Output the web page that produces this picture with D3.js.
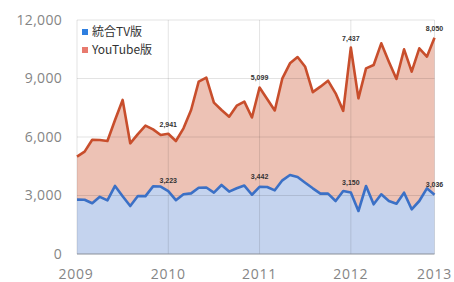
<!DOCTYPE html>
<html><head><meta charset="utf-8">
<script src="https://cdn.jsdelivr.net/npm/d3@7"></script>
<style>body{margin:0;background:#fff}svg{display:block}</style>
</head><body>
<script>
// Monthly values Jan 2009 – Dec 2012
const tvValues = [2790,2780,2600,2930,2750,3490,2960,2460,2970,2970,3470,3460,
  3223,2760,3060,3110,3400,3410,3150,3540,3200,3370,3510,3040,
  3442,3436,3265,3778,4051,3949,3658,3368,3094,3094,2718,3231,
  3150,2205,3487,2547,3060,2718,2581,3145,2291,2718,3368,3036];
const youtubeValues = [2200,2470,3260,2920,3045,3380,4940,3215,3180,3610,2920,2640,
  2941,3035,3384,4275,5438,5633,4611,3845,3843,4237,4302,3960,
  5099,4514,4095,5231,5727,6151,5942,4932,5487,5795,5521,4109,
  7437,5778,6034,7145,7743,7145,6393,7351,7059,7829,6752,8050];
const seriesNames = ["統合TV版","YouTube版"];
const xTickIndex = [0,12,24,36,47];
const xTickLabels = ["2009","2010","2011","2012","2013"];
const yTicks = [0,3000,6000,9000,12000];
const labelIndex = [12,24,36,47];

const W=454,H=282;
const svg=d3.select("body").append("svg").attr("width",W).attr("height",H);
const x=d3.scaleLinear().domain([0,47]).range([77,434.5]);
const y=d3.scaleLinear().domain([0,12000]).range([254,20]);
const data=tvValues.map((v,i)=>({i,tv:v,yt:youtubeValues[i],tot:v+youtubeValues[i]}));

// areas
svg.append("path").datum(data).attr("fill","#edc2b5")
  .attr("d",d3.area().x(d=>x(d.i)).y0(d=>y(d.tv)).y1(d=>y(d.tot)));
svg.append("path").datum(data).attr("fill","#c4d3ee")
  .attr("d",d3.area().x(d=>x(d.i)).y0(y(0)).y1(d=>y(d.tv)));

// grid
const g=svg.append("g");
g.selectAll(".h").data(yTicks.filter(t=>t>0)).join("line")
  .attr("x1",x(0)).attr("x2",x(47)).attr("y1",d=>y(d)).attr("y2",d=>y(d))
  .attr("stroke","rgba(0,0,0,0.11)").attr("stroke-width",1);
g.selectAll(".v").data(xTickIndex).join("line")
  .attr("x1",d=>x(d)).attr("x2",d=>x(d)).attr("y1",y(12000)).attr("y2",y(0))
  .attr("stroke","rgba(0,0,0,0.11)").attr("stroke-width",1);
svg.append("line").attr("x1",x(0)).attr("x2",x(47)).attr("y1",y(0)).attr("y2",y(0))
  .attr("stroke","#8a8f99").attr("stroke-width",1);

// lines
svg.append("path").datum(data).attr("fill","none").attr("stroke","#c84e2c")
  .attr("stroke-width",2.6).attr("stroke-linejoin","round")
  .attr("d",d3.line().x(d=>x(d.i)).y(d=>y(d.tot)));
svg.append("path").datum(data).attr("fill","none").attr("stroke","#3b70c6")
  .attr("stroke-width",2.6).attr("stroke-linejoin","round")
  .attr("d",d3.line().x(d=>x(d.i)).y(d=>y(d.tv)));

// axes labels
const fmt=d3.format(",");
const axisFont="'Open Sans', 'Liberation Sans', sans-serif";
svg.selectAll(".yl").data(yTicks).join("text")
  .attr("x",62).attr("y",d=>y(d)).attr("dy","0.35em").attr("text-anchor","end")
  .attr("font-family",axisFont).attr("font-size",14).attr("fill","#858585")
  .attr("letter-spacing",0.3)
  .text(d=>fmt(d));
svg.selectAll(".xl").data(xTickIndex).join("text")
  .attr("x",(d,k)=>x(d)-(k===0?1:0)).attr("y",274).attr("dy","0.35em").attr("text-anchor","middle")
  .attr("font-family",axisFont).attr("font-size",14).attr("fill","#858585")
  .attr("letter-spacing",0.8)
  .text((d,k)=>xTickLabels[k]);

// value labels
const lf="'Liberation Sans', sans-serif";
svg.selectAll(".lt").data(labelIndex).join("text")
  .attr("x",d=>x(d)).attr("y",d=>y(data[d].tot)-7).attr("text-anchor","middle")
  .attr("font-family",lf).attr("font-size",7).attr("font-weight","bold").attr("fill","#333")
  .text(d=>fmt(data[d].yt));
svg.selectAll(".lb").data(labelIndex).join("text")
  .attr("x",d=>x(d)).attr("y",d=>y(data[d].tv)-8).attr("text-anchor","middle")
  .attr("font-family",lf).attr("font-size",7).attr("font-weight","bold").attr("fill","#333")
  .text(d=>fmt(data[d].tv));

// legend
const legColors=["#2f7fe0","#e87a6e"];
const leg=svg.append("g");
seriesNames.forEach((n,k)=>{
  leg.append("rect").attr("x",82).attr("y",29+k*18).attr("width",6).attr("height",6).attr("fill",legColors[k]);
  leg.append("text").attr("x",92).attr("y",32+k*18).attr("dy","0.35em")
    .attr("font-family","'Noto Sans CJK JP', sans-serif").attr("font-size",12).attr("fill","#333").text(n);
});
</script>
</body></html>
